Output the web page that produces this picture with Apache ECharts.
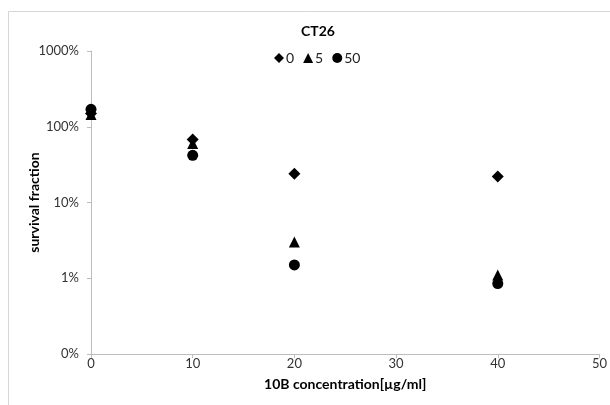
<!DOCTYPE html>
<html>
<head>
<meta charset="utf-8">
<script src="https://cdn.jsdelivr.net/npm/echarts@6/dist/echarts.min.js"></script>
<style>
  html, body { margin: 0; padding: 0; background: #fff; }
  #chart { width: 610px; height: 405px; }
</style>
</head>
<body>
<div id="chart"></div>
<script>
// 10B concentration [µg/ml]
const concentrations = [0, 10, 20, 40];
// survival fractions per series
const series0 = [1.50, 0.68, 0.24, 0.22];
const series5 = [1.45, 0.60, 0.030, 0.011];
const series50 = [1.70, 0.42, 0.015, 0.0085];
const seriesNames = ['0', '5', '50'];
const seriesSymbols = ['diamond', 'triangle', 'circle'];

const font = 'Lato, "Open Sans", sans-serif';
const pairs = vals => concentrations.map((c, i) => [c, vals[i]]);
const allValues = [series0, series5, series50];

const chart = echarts.init(document.getElementById('chart'));
chart.setOption({
  animation: false,
  backgroundColor: '#fff',
  title: {
    text: 'CT26',
    left: 313, top: 19, textAlign: 'center',
    textStyle: { fontFamily: font, fontSize: 14, fontWeight: 'bold', color: '#000' }
  },
  legend: {
    left: 269, top: 46,
    itemWidth: 10, itemHeight: 10, itemGap: 9,
    textStyle: { fontFamily: font, fontSize: 14, color: '#222', padding: [0, 0, 0, -3] },
    data: seriesNames.map((n, i) => ({ name: n, icon: seriesSymbols[i], itemStyle: { color: '#000', opacity: 1 } }))
  },
  graphic: [{
    type: 'rect', silent: true, z: -1,
    shape: { x: 8.5, y: 11.5, width: 620, height: 420 },
    style: { fill: 'none', stroke: '#d6d6d6', lineWidth: 1 }
  }],
  grid: { left: 91, right: 7, top: 51, bottom: 51 },
  xAxis: {
    type: 'value', min: 0, max: 50, interval: 10,
    name: '10B concentration[µg/ml]',
    nameLocation: 'middle', nameGap: 23,
    nameTextStyle: { fontFamily: font, fontSize: 14, fontWeight: 'bold', color: '#000' },
    axisLine: { lineStyle: { color: '#bdbdbd' } },
    axisTick: { show: true, length: 4, lineStyle: { color: '#bdbdbd' } },
    axisLabel: { fontFamily: font, fontSize: 13, color: '#333', margin: 3 },
    splitLine: { show: false }
  },
  yAxis: {
    type: 'log', logBase: 10, min: 0.001, max: 10,
    name: 'survival fraction',
    nameLocation: 'middle', nameGap: 50, nameRotate: 90,
    nameMoveOverlap: false,
    nameTextStyle: { fontFamily: font, fontSize: 14, fontWeight: 'bold', color: '#000' },
    axisLine: { show: true, lineStyle: { color: '#bdbdbd' } },
    axisTick: { show: true, length: 4, lineStyle: { color: '#bdbdbd' } },
    axisLabel: {
      fontFamily: font, fontSize: 13, color: '#333', margin: 12,
      formatter: v => Math.round(v * 100) + '%'
    },
    splitLine: { show: false }
  },
  series: seriesNames.map((n, i) => ({
    name: n,
    type: 'scatter',
    symbol: seriesSymbols[i],
    symbolSize: i === 0 ? 12 : 11,
    itemStyle: { color: '#000', opacity: 1 },
    data: pairs(allValues[i])
  }))
});
</script>
</body>
</html>
